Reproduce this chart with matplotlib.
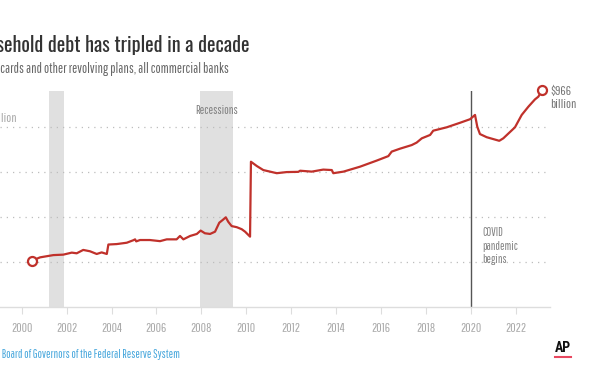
#!/usr/bin/env python3
"""Revolving credit at commercial banks, 2000-2023 (AP style line chart)."""

import matplotlib
matplotlib.use("Agg")
import matplotlib.pyplot as plt
import matplotlib.transforms as mtransforms

# --- data ---
years = [2000.45, 2000.82, 2001.41, 2001.85, 2002.23, 2002.45, 2002.74, 2003.04,
         2003.34, 2003.56, 2003.79, 2003.86, 2004.23, 2004.68, 2004.97, 2005.05,
         2005.10, 2005.27, 2005.71, 2006.16, 2006.46, 2006.90, 2007.05, 2007.20,
         2007.50, 2007.80, 2007.97, 2008.16, 2008.39, 2008.61, 2008.80, 2008.95,
         2009.09, 2009.20, 2009.35, 2009.58, 2009.80, 2009.95, 2010.17, 2010.21,
         2010.47, 2010.76, 2011.36, 2011.80, 2012.32, 2012.40, 2012.92, 2013.43,
         2013.81, 2013.88, 2014.33, 2015.07, 2015.81, 2016.33, 2016.48, 2016.85,
         2017.37, 2017.59, 2017.82, 2018.19, 2018.33, 2018.93, 2019.52, 2019.97,
         2020.19, 2020.29, 2020.41, 2020.71, 2021.27, 2021.45, 2021.97, 2022.27,
         2022.57, 2022.86, 2023.01, 2023.19]
debt = [207, 222, 232, 234, 243, 240, 255, 249,
        237, 244, 237, 279, 281, 287, 298, 302,
        293, 299, 299, 294, 302, 302, 317, 302,
        317, 326, 341, 329, 326, 336, 376, 388,
        400, 380, 361, 356, 347, 336, 314, 647,
        628, 610, 596, 601, 602, 607, 603, 612,
        610, 596, 603, 625, 652, 672, 692, 705,
        721, 732, 751, 766, 785, 800, 820, 836,
        855, 803, 770, 756, 740, 751, 800, 855,
        892, 924, 936, 966]

recessions = [(2001.23, 2001.88), (2007.94, 2009.42)]
covid_year = 2020.0
grid_values = [200, 400, 600, 800]
top_label = "$800 billion"
tick_years = list(range(2000, 2023, 2))

RED = "#c0312b"
NARROW = ["Pathway Gothic One", "Roboto Condensed", "Roboto", "DejaVu Sans"]
HEAD = ["Oswald", "Roboto Condensed", "Roboto", "DejaVu Sans"]
plt.rcParams["font.family"] = NARROW

W, H = 612, 374
fig = plt.figure(figsize=(W / 100, H / 100), dpi=100)

# plot area in pixels: x 0..550, y 90.7..307.3 (left side of the chart is cropped)
ax = fig.add_axes([0, (H - 307.3) / H, 550 / W, (307.3 - 90.7) / H])
ax.set_xlim(1999.033, 2023.53)
ax.set_ylim(0, (307.3 - 90.7) * 200 / 45)

for a, b in recessions:
    ax.axvspan(a, b, color="#e0e0e0", lw=0, zorder=0)

for v in grid_values:
    ax.axhline(v, color="#bdbdbd", lw=0.9, linestyle=(0, (1, 4)), zorder=1)

ax.axvline(covid_year, color="#555555", lw=1.0, zorder=2)

ax.plot(years, debt, color=RED, lw=1.6, zorder=3, solid_joinstyle="round")
for i in (0, -1):
    ax.plot(years[i], debt[i], "o", ms=6.5, mfc="white", mec=RED, mew=1.6,
            zorder=4, clip_on=False)

# axes styling
for s in ("top", "right", "left"):
    ax.spines[s].set_visible(False)
ax.spines["bottom"].set_color("#dddddd")
ax.spines["bottom"].set_linewidth(1.0)
ax.set_yticks([])
ax.set_xticks(tick_years)
ax.set_xticklabels([str(y) for y in tick_years])
ax.tick_params(axis="x", length=5, width=0.8, color="#dddddd", pad=6,
               labelsize=9.5, labelcolor="#aaaaaa")

# top gridline label, mostly cropped by the left edge like the reference
lab_tr = mtransforms.offset_copy(ax.get_yaxis_transform(), fig=fig, x=17, y=3, units="dots")
ax.text(0, grid_values[-1], top_label, transform=lab_tr, ha="right", va="bottom",
        fontsize=9.5, color="#aaaaaa")

# annotations
ax.text(sum(recessions[1]) / 2, (307.3 - 110) * 200 / 45, "Recessions",
        ha="center", va="center", fontsize=8.7, color="#808080")
ax.text(2020.5, (307.3 - 227) * 200 / 45, "COVID\npandemic\nbegins",
        ha="left", va="top", fontsize=8.3, color="#808080", linespacing=1.3)
ax.text(2023.53, (307.3 - 86) * 200 / 45, "$966\nbillion",
        ha="left", va="top", fontsize=9.5, color="#777777", linespacing=1.2,
        clip_on=False)

# title, subtitle, source (left side cropped like the reference)
fig.text(250 / W, 1 - 45 / H, "Household debt has tripled in a decade",
         ha="right", va="center", fontsize=14.4, color="#333333", family=HEAD)
fig.text(229 / W, 1 - 69 / H, "Credit cards and other revolving plans, all commercial banks",
         ha="right", va="center", fontsize=9.9, color="#666666")
fig.text(180 / W, 1 - 354 / H, "Source: Board of Governors of the Federal Reserve System",
         ha="right", va="center", fontsize=8.35, color="#45a6dc")

# AP logo
fig.text(563 / W, 1 - 348 / H, "AP", ha="center", va="center",
         fontsize=10, fontweight="bold", color="#111111",
         family=["Roboto Condensed", "Roboto", "DejaVu Sans"])
fig.add_artist(plt.Line2D([555 / W, 571 / W], [1 - 357 / H, 1 - 357 / H],
                          color="#e8475f", lw=1.5))

fig.savefig("out.png", dpi=100)
